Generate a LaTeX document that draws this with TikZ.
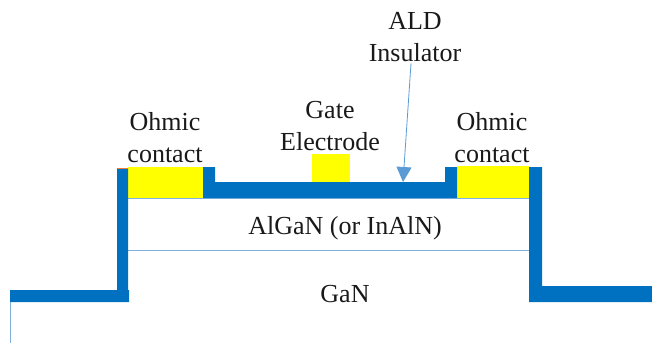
\documentclass[tikz,border=0pt]{standalone}
\usepackage{fontspec}
\setmainfont{Liberation Serif}
\usetikzlibrary{arrows.meta}
\definecolor{metal}{RGB}{0,112,192}
\definecolor{thin}{RGB}{127,176,223}
\definecolor{arrowblue}{RGB}{91,155,213}
\definecolor{padyellow}{RGB}{255,255,0}
\definecolor{edgeorange}{RGB}{237,125,49}
\tikzset{
  layer/.style={fill=metal,draw=none},
  contactpad/.style={fill=padyellow,draw=none},
  thinline/.style={draw=thin,line width=0.9pt},
  lbl/.style={font=\fontsize{26}{32}\selectfont,text=black!90,inner sep=0pt,align=center},
}
\begin{document}
\begin{tikzpicture}[x=1pt,y=-1pt]
\useasboundingbox (0,0) rectangle (652,343);
% thin lines
\draw[thinline] (128,198) -- (529,198);
\draw[thinline] (128,250.5) -- (529,250.5);
\draw[thinline] (10,302) -- (10,343);
% yellow pads
\fill[contactpad] (128,167) rectangle (203,198);
\fill[contactpad] (457,166) rectangle (529,198);
\fill[contactpad] (312,154) rectangle (350,182);
% insulator
\fill[layer] (10,290) -- (117,290) -- (117,168) -- (128,168) -- (128,290) -- (129,290) -- (129,302) -- (10,302) -- cycle;
\fill[layer] (203,167) -- (215,167) -- (215,182) -- (445,182) -- (445,167) -- (457,167) -- (457,198) -- (203,198) -- cycle;
\fill[layer] (529,167) -- (542,167) -- (542,286) -- (652,286) -- (652,302) -- (529,302) -- cycle;
\draw[edgeorange,line width=0.7pt] (117,168) -- (128,168);
% labels
\node[lbl] (ald) at (415,37.5) {ALD\\Insulator};
\node[lbl] (gate) at (330,126) {Gate\\Electrode};
\node[lbl] (ohl) at (165,138) {Ohmic\\contact};
\node[lbl] (ohr) at (492,138) {Ohmic\\contact};
\node[lbl] (algan) at (345,228) {AlGaN (or InAlN)};
\node[lbl] (gan) at (345,294) {GaN};
\coordinate (tip) at (403,182);
\draw[draw=arrowblue,line width=0.8pt,-{Triangle[length=15pt,width=15pt,fill=arrowblue]}] (ald.south) ++(-4,1) -- (tip);
\end{tikzpicture}
\end{document}
